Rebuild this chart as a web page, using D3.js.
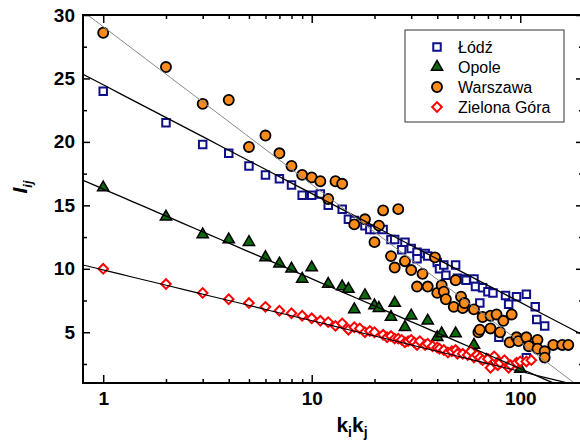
<!DOCTYPE html>
<html>
<head>
<meta charset="utf-8">
<script src="https://cdn.jsdelivr.net/npm/d3@7"></script>
<style>
  body { margin: 0; background: #fff; }
  text { font-family: "Liberation Sans", Arial, sans-serif; }
</style>
</head>
<body>
<svg id="chart" width="580" height="445"></svg>
<script>
// ---- data (k_i*k_j , I_ij) ----
const seriesNames = ['Łódź', 'Opole', 'Warszawa', 'Zielona Góra'];

const lodz = [[1,24.0],[2,21.5],[3,19.8],[4,19.1],[5,18.1],[6,17.4],[7,17.1],[8,16.6],[9,15.8],[10,15.8],
  [11,15.9],[12,15.0],[14,14.7],[15,13.9],[16,13.8],[18,13.4],[19,13.1],[20,13.1],[22,13.1],[24,12.3],
  [25,12.3],[27,11.5],[28,12.1],[30,11.6],[32,11.3],[32,10.8],[35,11.2],[36,11.0],[40,10.5],[41,10.0],
  [43,10.3],[44,9.5],[49,10.3],[50,9.25],[54,9.2],[55,9.1],[60,9.2],[61,8.6],[66,8.5],[70,8.2],
  [74,8.1],[85,7.9],[96,7.8],[107,8.0],[64,7.3],[88,7.2],[118,7.0],[120,6.0],[131,5.5],[79,4.6],
  [98,4.5],[107,3.0]];

const opole = [[1,16.4],[2,14.1],[3,12.7],[4,12.3],[5,12.1],[6,10.9],[7,10.4],[8,10.0],[9,9.2],[10,10.1],
  [12,8.8],[14,8.6],[15,8.4],[16,6.8],[18,7.9],[20,7.1],[21,6.9],[24,6.2],[25,7.3],[28,5.4],
  [30,6.3],[36,5.9],[40,4.6],[42,4.9],[49,4.9],[60,4.0],[69,2.8],[100,2.1]];

const warszawa = [[1,28.6],[2,25.9],[3,23.0],[4,23.3],[5,19.6],[6,20.5],[7,19.1],[8,18.1],[9,17.4],[10,17.2],
  [11,16.9],[12,15.5],[13,16.9],[14,16.7],[16,13.5],[18,13.9],[20,12.1],[21,13.4],[22,14.6],[24,11.0],
  [25,10.1],[26,14.7],[28,10.6],[30,9.9],[32,8.6],[34,9.6],[36,8.6],[39,10.9],[40,8.1],[42,8.7],
  [43,8.2],[44,7.6],[48,7.0],[49,9.1],[52,7.8],[53,6.9],[54,7.3],[60,6.8],[63,5.0],[64,5.2],
  [66,6.2],[72,6.3],[72,5.3],[77,6.4],[80,5.0],[83,5.9],[89,4.2],[91,6.4],[96,4.6],[98,4.3],
  [107,4.6],[110,3.9],[121,4.4],[121,3.7],[131,3.5],[131,3.0],[144,4.0],[159,4.0],[170,4.0]];

const zielona = [[1,10.0],[2,8.8],[3,8.1],[4,7.6],[5,7.3],[6,7.0],[7,6.7],[8,6.5],[9,6.3],[10,6.1],
  [11,5.9],[12,5.8],[13,5.5],[14,5.7],[15,5.2],[16,5.4],[17,5.3],[18,5.0],[19,5.1],[20,5.0],
  [22,4.8],[23,4.6],[24,4.7],[25,4.5],[26,4.5],[27,4.4],[28,4.2],[29,4.3],[30,4.4],[31,4.2],
  [32,4.0],[33,4.3],[35,4.0],[36,4.1],[38,3.9],[40,3.8],[41,3.7],[43,3.6],[45,3.4],[47,3.5],
  [49,3.6],[50,3.3],[53,3.3],[56,3.2],[58,3.5],[60,3.0],[62,3.2],[64,3.0],[66,2.8],[70,2.9],
  [72,2.2],[75,3.1],[78,2.4],[80,2.6],[84,2.8],[88,2.2],[90,2.4],[96,2.6],[100,2.7],[107,2.7],[113,2.8]];

// fitted lines: I = a - b*log10(k)
const fitIntercept = [24.5, 16.29, 29.08, 9.91];
const fitSlope = [8.57, 7.08, 12.43, 4.0];

const xMajor = [1, 10, 100];
const xMinor = [2,3,4,5,6,7,8,9,20,30,40,50,60,70,80,90];
const yMajor = [5, 10, 15, 20, 25, 30];
const yMinor = [2.5, 7.5, 12.5, 17.5, 22.5, 27.5];

// ---- layout ----
const svg = d3.select('#chart');
const pLeft = 83, pRight = 583, pTop = 15, pBottom = 383;

const x = d3.scaleLog().domain([0.8, 200]).range([pLeft, pRight]);
const y = d3.scaleLinear().domain([1, 30]).range([pBottom, pTop]);

svg.append('defs').append('clipPath').attr('id', 'plot')
  .append('rect').attr('x', pLeft).attr('y', pTop).attr('width', pRight - pLeft).attr('height', pBottom - pTop);

// markers
const styles = [
  {sym: d3.symbolSquare, size: 56, fill: '#fff', stroke: '#10108a', sw: 2, rot: 0},
  {sym: d3.symbolTriangle, size: 55, fill: '#0b6a0b', stroke: '#000', sw: 1.5, rot: 0},
  {sym: d3.symbolCircle, size: 80, fill: '#ff8c1a', stroke: '#000', sw: 1.8, rot: 0},
  {sym: d3.symbolSquare, size: 46, fill: '#fff', stroke: '#ff0000', sw: 2, rot: 45}
];
const allData = [lodz, opole, warszawa, zielona];

function marker(sel, s) {
  sel.attr('d', d3.symbol().type(s.sym).size(s.size)())
    .attr('fill', s.fill)
    .attr('stroke', s.stroke)
    .attr('stroke-width', s.sw);
}

allData.forEach(function(data, i) {
  const s = styles[i];
  svg.append('g').selectAll('path')
    .data(data)
    .enter().append('path')
    .attr('transform', d => 'translate(' + x(d[0]) + ',' + y(d[1]) + ') rotate(' + s.rot + ')')
    .call(marker, s);
});

// fit lines
const lineColor = ['#000', '#000', '#888', '#000'];
const lineWidth = [1.3, 1.3, 1, 1.1];
const lines = svg.append('g').attr('clip-path', 'url(#plot)');
fitIntercept.forEach(function(a, i) {
  const b = fitSlope[i];
  const lo = Math.log10(0.8), hi = Math.log10(200);
  const pts = d3.range(0, 41).map(function(t) {
    const lk = lo + t / 40 * (hi - lo);
    return [Math.pow(10, lk), a - b * lk];
  });
  lines.append('path')
    .attr('d', d3.line().x(d => x(d[0])).y(d => y(d[1]))(pts))
    .attr('fill', 'none')
    .attr('stroke', lineColor[i])
    .attr('stroke-width', lineWidth[i]);
});

// axes (ticks point inwards)
function styleAxis(g) {
  g.select('.domain').remove();
  g.selectAll('line').attr('stroke', '#000').attr('stroke-width', 1.5);
  g.selectAll('text').attr('font-size', 19).attr('font-weight', 'bold').attr('fill', '#000')
    .attr('font-family', '"Liberation Sans", Arial, sans-serif');
}

svg.append('g').attr('transform', 'translate(0,' + pBottom + ')')
  .call(d3.axisBottom(x).tickValues(xMajor).tickSize(-8).tickPadding(9).tickFormat(d3.format('d')))
  .call(styleAxis);
svg.append('g').attr('transform', 'translate(0,' + pBottom + ')')
  .call(d3.axisBottom(x).tickValues(xMinor).tickSize(-4).tickFormat(''))
  .call(styleAxis);
svg.append('g').attr('transform', 'translate(0,' + pTop + ')')
  .call(d3.axisTop(x).tickValues(xMajor).tickSize(-8).tickFormat(''))
  .call(styleAxis);
svg.append('g').attr('transform', 'translate(0,' + pTop + ')')
  .call(d3.axisTop(x).tickValues(xMinor).tickSize(-4).tickFormat(''))
  .call(styleAxis);

svg.append('g').attr('transform', 'translate(' + pLeft + ',0)')
  .call(d3.axisLeft(y).tickValues(yMajor).tickSize(-7).tickPadding(8))
  .call(styleAxis);
svg.append('g').attr('transform', 'translate(' + pLeft + ',0)')
  .call(d3.axisLeft(y).tickValues(yMinor).tickSize(-4).tickFormat(''))
  .call(styleAxis);
svg.append('g').attr('transform', 'translate(' + pRight + ',0)')
  .call(d3.axisRight(y).tickValues(yMajor).tickSize(-7).tickFormat(''))
  .call(styleAxis);
svg.append('g').attr('transform', 'translate(' + pRight + ',0)')
  .call(d3.axisRight(y).tickValues(yMinor).tickSize(-4).tickFormat(''))
  .call(styleAxis);

// frame
svg.append('rect')
  .attr('x', pLeft).attr('y', pTop).attr('width', pRight - pLeft).attr('height', pBottom - pTop)
  .attr('fill', 'none').attr('stroke', '#000').attr('stroke-width', 2);

// axis titles
const xt = svg.append('text').attr('x', 352).attr('y', 432).attr('text-anchor', 'middle')
  .attr('font-size', 21).attr('font-weight', 'bold');
xt.append('tspan').text('k');
xt.append('tspan').text('i').attr('font-size', 14).attr('dy', 5);
xt.append('tspan').text('k').attr('dy', -5);
xt.append('tspan').text('j').attr('font-size', 14).attr('dy', 5);

const yt = svg.append('text').attr('transform', 'translate(27,187) rotate(-90)')
  .attr('text-anchor', 'middle').attr('font-size', 21).attr('font-weight', 'bold').attr('font-style', 'italic');
yt.append('tspan').text('I');
yt.append('tspan').text('ij').attr('font-size', 13).attr('dy', 5);

// legend
const lg = svg.append('g');
lg.append('rect').attr('x', 405).attr('y', 30).attr('width', 159).attr('height', 92)
  .attr('fill', '#fff').attr('stroke', '#333').attr('stroke-width', 1);
seriesNames.forEach(function(name, i) {
  const yy = 47 + i * 20;
  lg.append('path')
    .attr('transform', 'translate(437,' + yy + ') rotate(' + styles[i].rot + ')')
    .call(marker, styles[i]);
  lg.append('text').attr('x', 458).attr('y', yy).attr('dy', '0.36em')
    .attr('font-size', 16).text(name);
});
</script>
</body>
</html>
